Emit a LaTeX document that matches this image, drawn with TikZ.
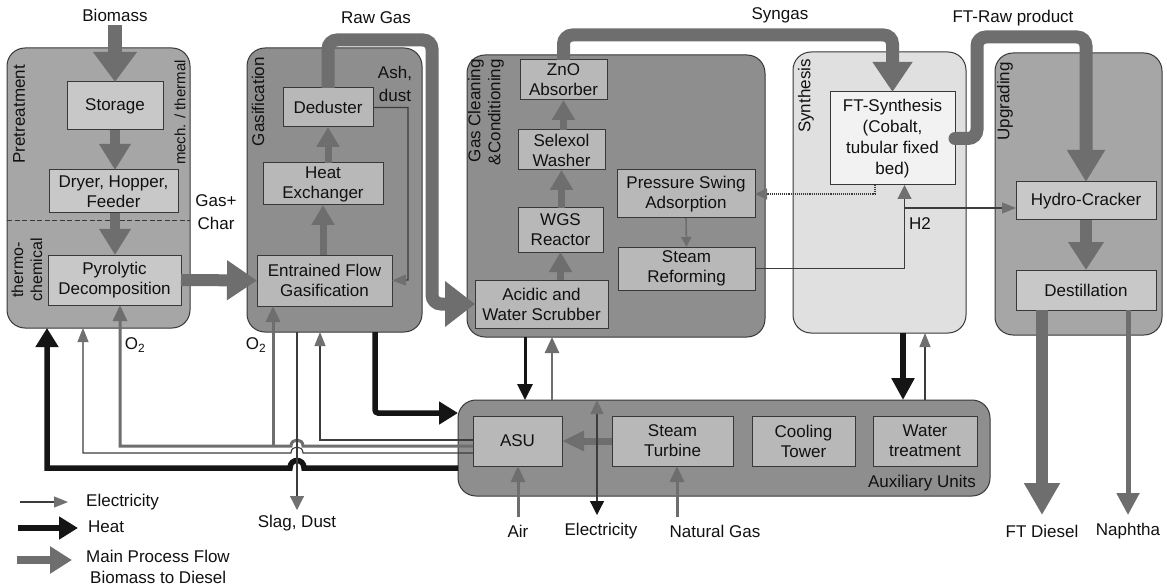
\documentclass[tikz,border=0pt]{standalone}
\usepackage{fontspec}
\setmainfont{Liberation Sans}
\usetikzlibrary{arrows.meta,calc}
\definecolor{grpA}{HTML}{A6A6A6}
\definecolor{grpB}{HTML}{8E8E8E}
\definecolor{grpC}{HTML}{E0E0E0}
\definecolor{boxA}{HTML}{C8C8C8}
\definecolor{boxW}{HTML}{F2F2F2}
\definecolor{flowc}{HTML}{6E6E6E}
\definecolor{elecc}{HTML}{3C3C3C}
\definecolor{tipc}{HTML}{707070}
\definecolor{heatc}{HTML}{151515}
\definecolor{edgec}{HTML}{383838}
\definecolor{txtc}{HTML}{111111}
\newcommand\mkbox[7]{\node[#6,minimum width={(#4-#2)*1pt},minimum height={(#5-#3)*1pt}] (#1) at ({(#2+#4)/2},{(#3+#5)/2}) {#7};}
\begin{document}
\begin{tikzpicture}[x=1pt,y=-1pt,
  font=\fontsize{17}{20}\selectfont, text=txtc,
  grp/.style={draw=edgec,line width=1pt,rounded corners=18pt,inner sep=0pt,outer sep=0pt},
  unit/.style={draw=edgec,line width=1pt,fill=boxA,align=center,inner sep=0pt,outer sep=0pt},
  lbl/.style={align=center,inner sep=0pt},
  glbl/.style={rotate=90,anchor=east,inner sep=0pt,align=right},
  bigflow/.style={draw=flowc,line width=14pt,-{Triangle[width=42pt,length=30pt]}},
  midflow/.style={draw=flowc,line width=10pt,-{Triangle[width=30pt,length=26pt]}},
  smallflow/.style={draw=flowc,line width=7pt,-{Triangle[width=22pt,length=20pt]}},
  pipe/.style={draw=flowc,line width=13pt,rounded corners=9pt},
  heatA/.style={draw=heatc,line width=5.5pt,-{Triangle[width=22pt,length=19pt]}},
  heatB/.style={draw=heatc,line width=3pt,-{Triangle[width=15pt,length=16pt]}},
  elecA/.style={draw=elecc,line width=1.1pt,-{Triangle[width=11pt,length=14pt,color=tipc]}},
  oxy/.style={draw=flowc,line width=3pt,-{Triangle[width=14pt,length=16pt]}},
]
\fill[white] (0,0) rectangle (1167,588);
\useasboundingbox (0,0) rectangle (1167,588);

% ---------- groups ----------
\mkbox{pre}{7}{48}{190}{328}{grp,fill=grpA}{}
\mkbox{gas}{247}{48}{422}{332}{grp,fill=grpB}{}
\mkbox{gcl}{467}{55}{765}{337}{grp,fill=grpB}{}
\mkbox{syn}{793}{52}{966}{333}{grp,fill=grpC}{}
\mkbox{upg}{995}{53}{1162}{335}{grp,fill=grpA}{}
\mkbox{aux}{458}{400}{990}{496}{grp,fill=grpB}{}

% group labels
\node[glbl] (lpre) at (19,65) {Pretreatment};
\node[glbl,font=\fontsize{15}{17}\selectfont] (lmech) at (180,60) {mech. / thermal};
\node[rotate=90,inner sep=0pt,align=center,font=\fontsize{16}{19}\selectfont] (lthermo) at (27,270) {thermo-\\chemical};
\node[glbl] (lgas) at (258,57) {Gasification};
\node[glbl] (lgcl) at (486,59) {Gas Cleaning\\\&Conditioning};
\node[glbl] (lsyn) at (806,59) {Synthesis};
\node[glbl] (lupg) at (1005,62) {Upgrading};
\node[anchor=east,inner sep=0pt] (laux) at (976,483) {Auxiliary Units};

\coordinate (dashy) at (0,221);
\draw[edgec,line width=1pt,dash pattern=on 5pt off 2.5pt] (pre.west |- dashy) -- (pre.east |- dashy);

% ---------- units ----------
\mkbox{storage}{67}{82}{163}{130}{unit}{Storage}
\mkbox{dryer}{49}{170}{178}{213}{unit}{Dryer, Hopper,\\Feeder}
\mkbox{pyro}{48}{255}{181}{305}{unit}{Pyrolytic\\Decomposition}
\mkbox{dedus}{283}{88}{373}{127}{unit,fill=boxA!92!black}{Deduster}
\mkbox{hex}{263}{163}{383}{205}{unit,fill=boxA!92!black}{Heat\\Exchanger}
\mkbox{efg}{257}{255}{392}{306}{unit,fill=boxA!92!black}{Entrained Flow\\Gasification}
\mkbox{zno}{520}{60}{607}{100}{unit,fill=boxA!92!black}{ZnO\\Absorber}
\mkbox{selex}{518}{130}{605}{170}{unit,fill=boxA!92!black}{Selexol\\Washer}
\mkbox{wgs}{518}{208}{603}{252}{unit,fill=boxA!92!black}{WGS\\Reactor}
\mkbox{acid}{475}{280}{608}{328}{unit,fill=boxA!92!black}{Acidic and\\Water Scrubber}
\mkbox{psa}{617}{170}{755}{218}{unit,fill=boxA!92!black}{Pressure Swing\\Adsorption}
\mkbox{sref}{618}{247}{755}{290}{unit,fill=boxA!92!black}{Steam\\Reforming}
\mkbox{fts}{830}{92}{955}{185}{unit,fill=boxW,font=\fontsize{17}{21}\selectfont}{FT-Synthesis\\(Cobalt,\\tubular fixed\\bed)}
\mkbox{hcr}{1016}{182}{1156}{220}{unit}{Hydro-Cracker}
\mkbox{dest}{1016}{270}{1156}{310}{unit}{Destillation}
\mkbox{asu}{473}{416}{562}{466}{unit,fill=boxA!92!black}{ASU}
\mkbox{stt}{612}{416}{733}{466}{unit,fill=boxA!92!black}{Steam\\Turbine}
\mkbox{cool}{752}{416}{855}{466}{unit,fill=boxA!92!black}{Cooling\\Tower}
\mkbox{water}{873}{416}{977}{466}{unit,fill=boxA!92!black}{Water\\treatment}

% ---------- free labels ----------
\node[lbl] (tbio) at (115,15) {Biomass};
\node[lbl] (traw) at (376,18) {Raw Gas};
\node[lbl] (tsyn) at (780,15) {Syngas};
\node[lbl] (tftr) at (1013,18) {FT-Raw product};
\node[lbl,font=\fontsize{17}{23}\selectfont] (tgas) at (216,212) {Gas+\\Char};
\node[lbl,font=\fontsize{17}{23}\selectfont] (tash) at (395,84) {Ash,\\dust};
\node[lbl] (th2) at (920,224) {H2};
\node[lbl] (to2a) at (135,345) {O\textsubscript{2}};
\node[lbl] (to2b) at (256,345) {O\textsubscript{2}};
\node[lbl] (tslag) at (297,523) {Slag, Dust};
\node[lbl] (tair) at (518,531) {Air};
\node[lbl] (telec) at (601,531) {Electricity};
\node[lbl] (tng) at (715,531) {Natural Gas};
\node[lbl] (tdie) at (1042,531) {FT Diesel};
\node[lbl] (tnap) at (1128,531) {Naphtha};

% ---------- main process flow ----------
\draw[bigflow] ([yshift=-4pt]tbio.south) -- (storage.north);
\draw[midflow] (storage.south) -- (storage.south |- dryer.north);
\draw[midflow] (dryer.south -| storage.south) -- (storage.south |- pyro.north);
\draw[draw=flowc,line width=12pt,-{Triangle[width=38pt,length=30pt]}] (pyro.east) -- (efg.west);
\draw[smallflow] (efg.north -| hex.south) -- (hex.south);
\draw[smallflow] (hex.north -| dedus.south) -- (dedus.south);
\coordinate (rg) at (432,40);
\draw[pipe,-{Triangle[width=44pt,length=30pt]}] (dedus.north) |- (rg) |- (acid.west);
\draw[smallflow] (acid.north -| wgs.south) -- (wgs.south);
\draw[smallflow] (wgs.north -| selex.south) -- (selex.south);
\draw[smallflow] (selex.north -| zno.south) -- (zno.south);
\coordinate (sg) at (700,35);
\draw[pipe,-{Triangle[width=38pt,length=30pt]}] (zno.north) |- (sg) -| (fts.north);
\coordinate (fr) at (977,37);
\draw[pipe,line cap=round,-{Triangle[width=36pt,length=32pt]}] (fts.east) -| (fr) -| (hcr.north);
\draw[draw=flowc,line width=12pt,-{Triangle[width=34pt,length=28pt]}] (hcr.south) -- (dest.north);
\coordinate (fd) at (1042,515);
\draw[draw=flowc,line width=12pt,-{Triangle[width=34pt,length=32pt]}] (dest.south -| fd) -- (fd);
\coordinate (np) at (1128,515);
\draw[draw=flowc,line width=5pt,-{Triangle[width=22pt,length=22pt]}] (dest.south -| np) -- (np);
\draw[draw=flowc,line width=1.6pt,-{Triangle[width=10pt,length=10pt]}] (psa.south) -- (sref.north);
\draw[draw=flowc,line width=7pt,-{Triangle[width=19pt,length=22pt]}] (stt.west) -- (asu.east);

% ---------- thin lines around synthesis ----------
\coordinate (ash) at (408,280);
\draw[elecA] (dedus.east) -| (ash) -- (efg.east);
\coordinate (dq) at (875,0);
\draw[elecA,densely dotted,-{Triangle[width=11pt,length=12pt,color=tipc]}] (fts.south -| dq) |- (psa.east);
\draw[elecA,-{Triangle[width=14pt,length=14pt,color=tipc]}] (sref.east) -| ([xshift=12pt]fts.south);
\coordinate (hb) at (905,208);
\draw[elecA] (hb) -- (hb -| hcr.west);

% ---------- auxiliary connections ----------
\coordinate (xa) at (525,0);
\draw[heatB] (gcl.south -| xa) -- (aux.north -| xa);
\coordinate (xb) at (552,0);
\draw[oxy,line width=2.5pt] (aux.north -| xb) -- (gcl.south -| xb);
\coordinate (xc) at (903,0);
\draw[draw=heatc,line width=5.5pt,-{Triangle[width=22pt,length=22pt]}] (syn.south -| xc) -- (aux.north -| xc);
\coordinate (xd) at (925,0);
\draw[elecA] (aux.north -| xd) -- (syn.south -| xd);
\coordinate (el) at (597,515);
\draw[draw=elecc,line width=1.3pt,{Triangle[width=14pt,length=14pt,color=heatc]}-{Triangle[width=13pt,length=14pt,color=tipc]}] (el) -- (aux.north -| el);
\coordinate (air) at (518,517);
\draw[oxy] (air) -- (asu.south -| air);
\coordinate (ng) at (677,517);
\draw[oxy] (ng) -- (stt.south -| ng);

% ---------- left side supply lines ----------
\coordinate (yG) at (0,440);
\coordinate (yO) at (0,446);
\coordinate (yE) at (0,453);
\coordinate (yH) at (0,468);
\coordinate (xG) at (320,0);
\coordinate (xO) at (120,0);
\coordinate (xE) at (83,0);
\coordinate (xH) at (47,0);
\draw[elecA] (asu.west |- yG) -| (gas.south -| xG);
\draw[oxy] (asu.west |- yO) -- (303,446) .. controls (303,438) and (291,438) .. (291,446) -| (pyro.south -| xO);
\coordinate (og) at (273,446);
\draw[oxy] (og) -- (efg.south -| og);
\draw[elecA] (asu.west |- yE) -- (303,453) .. controls (303,445) and (291,445) .. (291,453) -| (pre.south -| xE);
\draw[heatA] (aux.west |- yH) -- (304,468) .. controls (304,458) and (290,458) .. (290,468) -| (pre.south -| xH);
\coordinate (slag) at (297,510);
\draw[elecA,-{Triangle[width=14pt,length=14pt,color=tipc]}] (gas.south -| slag) -- (slag);
\coordinate (gh) at (375,413);
\draw[heatA,rounded corners=3pt] (gas.south -| gh) |- (aux.west |- gh);

% ---------- legend ----------
\coordinate (lgE1) at (20,502); \coordinate (lgE2) at (68,502);
\draw[elecA] (lgE1) -- (lgE2);
\node[anchor=west,inner sep=0pt] (lgEt) at (86,502) {Electricity};
\coordinate (lgH1) at (18,528); \coordinate (lgH2) at (78,528);
\draw[heatA] (lgH1) -- (lgH2);
\node[anchor=west,inner sep=0pt] (lgHt) at (88,527) {Heat};
\coordinate (lgM1) at (17,560); \coordinate (lgM2) at (72,560);
\draw[draw=flowc,line width=8pt,-{Triangle[width=26pt,length=22pt]}] (lgM1) -- (lgM2);
\node[anchor=west,inner sep=0pt,align=left,font=\fontsize{17}{21}\selectfont] (lgMt) at (86,567) {Main Process Flow\\\hspace*{4pt}Biomass to Diesel};
\end{tikzpicture}
\end{document}
